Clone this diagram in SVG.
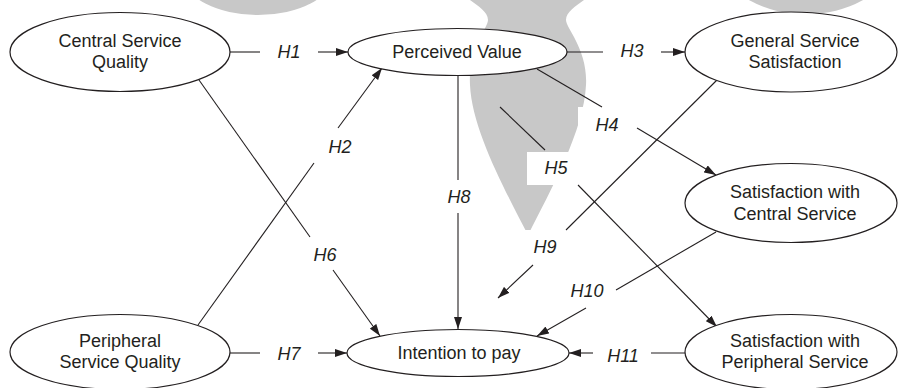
<svg xmlns="http://www.w3.org/2000/svg" width="898" height="388" viewBox="0 0 898 388">
  <style>
    .node ellipse { fill: #ffffff; stroke: #231f20; stroke-width: 1.2; }
    .node text { font-family: "Liberation Sans", Arial, sans-serif; font-size: 18px; fill: #231f20; text-anchor: middle; }
    .edge { stroke: #231f20; stroke-width: 1.1; fill: none; }
    .lbl { font-family: "Liberation Sans", Arial, sans-serif; font-size: 18px; font-style: italic; fill: #231f20; text-anchor: middle; }
    .wm { fill: #c8c8c8; }
    .mask { fill: #ffffff; }
  </style>
  <defs>
    <marker id="arr" viewBox="0 0 12 8" refX="12" refY="4" markerWidth="12" markerHeight="8" markerUnits="userSpaceOnUse" orient="auto">
      <path d="M0,0 L12,4 L0,8 Z" fill="#231f20"/>
    </marker>
  </defs>
  <rect width="898" height="388" fill="#ffffff"/>

  <g id="watermark">
    <ellipse class="wm" cx="258" cy="-25" rx="75" ry="40"/>
    <ellipse class="wm" cx="806" cy="-30" rx="78" ry="44"/>
    <path class="wm" d="M470 0 C478 6 488 12 488 20 C488 28 468 50 470 85 C472 130 505 190 528 235 C551 190 584 130 586 85 C588 50 566 28 566 20 C566 12 576 6 584 0 Z"/>
    <rect class="mask" x="578" y="107" width="40" height="45"/>
    <rect class="mask" x="527" y="152" width="51" height="33"/>
    <rect class="mask" x="495" y="230" width="70" height="30"/>
  </g>

  <g id="connectors">
    <line class="edge" x1="230" y1="52" x2="260" y2="52"/>
    <line class="edge" x1="318" y1="52" x2="348" y2="52" marker-end="url(#arr)"/>
    <text class="lbl" x="289" y="58">H1</text>

    <line class="edge" x1="198" y1="325" x2="314" y2="163"/>
    <line class="edge" x1="338" y1="128" x2="382" y2="68" marker-end="url(#arr)"/>
    <text class="lbl" x="340" y="153">H2</text>

    <line class="edge" x1="567" y1="52" x2="603" y2="52"/>
    <line class="edge" x1="661" y1="52" x2="685" y2="52" marker-end="url(#arr)"/>
    <text class="lbl" x="632" y="57">H3</text>

    <line class="edge" x1="537" y1="69" x2="602" y2="107"/>
    <line class="edge" x1="637" y1="128" x2="716" y2="175" marker-end="url(#arr)"/>
    <text class="lbl" x="607" y="131">H4</text>

    <line class="edge" x1="500" y1="107" x2="545" y2="150"/>
    <line class="edge" x1="578" y1="185" x2="717" y2="327" marker-end="url(#arr)"/>
    <text class="lbl" x="556" y="174">H5</text>

    <line class="edge" x1="199" y1="80" x2="310" y2="237"/>
    <line class="edge" x1="333" y1="270" x2="380" y2="336" marker-end="url(#arr)"/>
    <text class="lbl" x="325" y="261">H6</text>

    <line class="edge" x1="230" y1="353" x2="260" y2="353"/>
    <line class="edge" x1="318" y1="353" x2="347" y2="353" marker-end="url(#arr)"/>
    <text class="lbl" x="289" y="360">H7</text>

    <line class="edge" x1="458" y1="75" x2="458" y2="180"/>
    <line class="edge" x1="458" y1="213" x2="458" y2="329" marker-end="url(#arr)"/>
    <text class="lbl" x="459" y="203">H8</text>

    <line class="edge" x1="717" y1="80" x2="566" y2="230"/>
    <line class="edge" x1="533" y1="265" x2="498" y2="298" marker-end="url(#arr)"/>
    <text class="lbl" x="545" y="253">H9</text>

    <line class="edge" x1="716" y1="232" x2="616" y2="290"/>
    <line class="edge" x1="586" y1="308" x2="537" y2="336" marker-end="url(#arr)"/>
    <text class="lbl" x="587" y="297">H10</text>

    <line class="edge" x1="685" y1="353" x2="651" y2="353"/>
    <line class="edge" x1="593" y1="353" x2="569" y2="353" marker-end="url(#arr)"/>
    <text class="lbl" x="623" y="362">H11</text>
  </g>

  <g id="central-service-quality" class="node">
    <ellipse cx="120" cy="52" rx="110" ry="39.5"/>
    <text x="120" y="47">Central Service</text>
    <text x="120" y="68">Quality</text>
  </g>
  <g id="perceived-value" class="node">
    <ellipse cx="457.5" cy="52" rx="109.5" ry="23.5"/>
    <text x="457" y="58">Perceived Value</text>
  </g>
  <g id="general-service-satisfaction" class="node">
    <ellipse cx="791" cy="52" rx="106" ry="40"/>
    <text x="795" y="47">General Service</text>
    <text x="795" y="68">Satisfaction</text>
  </g>
  <g id="satisfaction-central-service" class="node">
    <ellipse cx="791" cy="203" rx="106" ry="39.5"/>
    <text x="795" y="198">Satisfaction with</text>
    <text x="795" y="220">Central Service</text>
  </g>
  <g id="peripheral-service-quality" class="node">
    <ellipse cx="120" cy="352" rx="110" ry="37.5"/>
    <text x="120" y="347">Peripheral</text>
    <text x="120" y="368">Service Quality</text>
  </g>
  <g id="intention-to-pay" class="node">
    <ellipse cx="458" cy="353" rx="111" ry="23.5"/>
    <text x="459" y="359">Intention to pay</text>
  </g>
  <g id="satisfaction-peripheral-service" class="node">
    <ellipse cx="791" cy="352" rx="106" ry="37.5"/>
    <text x="795" y="347">Satisfaction with</text>
    <text x="795" y="368">Peripheral Service</text>
  </g>
</svg>
